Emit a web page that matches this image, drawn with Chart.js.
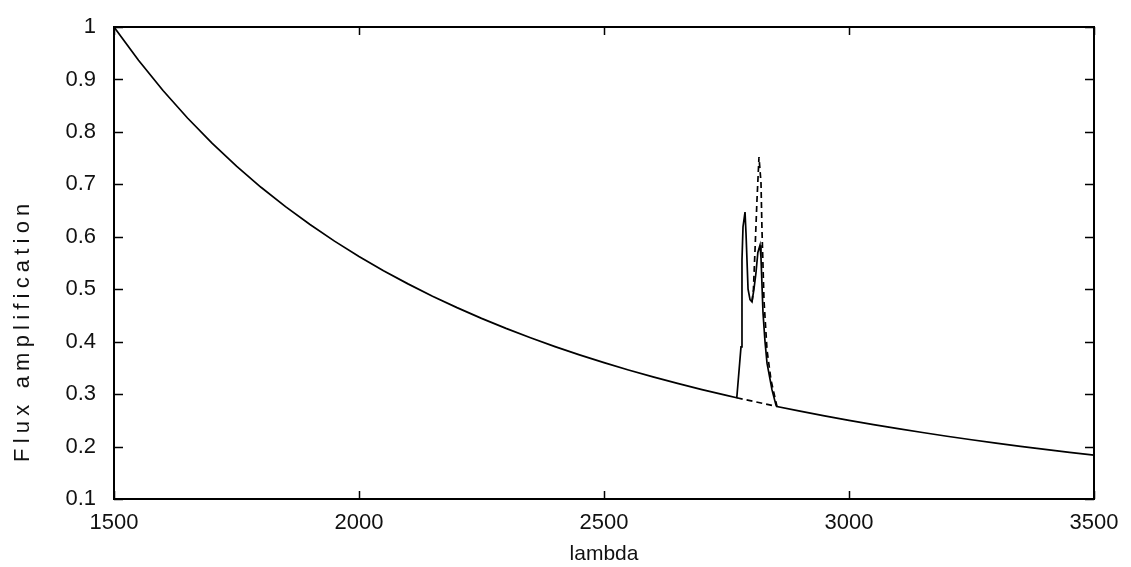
<!DOCTYPE html>
<html>
<head>
<meta charset="utf-8">
<script src="https://cdn.jsdelivr.net/npm/chart.js@4.4.1/dist/chart.umd.min.js"></script>
<style>
  body { margin: 0; background: #fff; }
  #wrap { width: 1131px; height: 567px; position: relative; }
</style>
</head>
<body>
<div id="wrap"><canvas id="flux-chart"></canvas></div>
<script>
// ---- data ----
// continuum, left of the emission feature
const contLeftLambda = [1500, 1550, 1600, 1650, 1700, 1750, 1800, 1850, 1900, 1950, 2000, 2050, 2100, 2150, 2200, 2250, 2300, 2350, 2400, 2450, 2500, 2550, 2600, 2650, 2700, 2750, 2771];
const contLeftFlux   = [1.000, 0.9365, 0.8789, 0.8264, 0.7785, 0.7347, 0.6944, 0.6574, 0.6233, 0.5917, 0.5625, 0.5354, 0.5102, 0.4867, 0.4649, 0.4444, 0.4253, 0.4074, 0.3906, 0.3748, 0.3600, 0.3460, 0.3328, 0.3204, 0.3086, 0.2975, 0.2930];

// solid emission profile (double peak)
const emitLambda = [2779.6, 2781.6, 2783.7, 2787.8, 2789.8, 2794, 2798, 2802, 2806, 2810, 2814, 2818.4, 2820.4, 2824.5, 2828.6, 2832.7, 2842.9, 2851];
const emitFlux   = [0.390, 0.556, 0.619, 0.647, 0.607, 0.500, 0.480, 0.476, 0.500, 0.530, 0.570, 0.584, 0.560, 0.455, 0.400, 0.359, 0.308, 0.279];

// continuum, right of the emission feature
const contRightLambda = [2853, 2900, 2950, 3000, 3050, 3100, 3150, 3200, 3250, 3300, 3350, 3400, 3450, 3500];
const contRightFlux   = [0.2764, 0.2675, 0.2585, 0.2500, 0.2419, 0.2341, 0.2268, 0.2197, 0.2130, 0.2066, 0.2005, 0.1946, 0.1890, 0.1837];

// dashed profile (single peak) and dashed continuum under the feature
const dashLambda = [2802, 2805, 2808.2, 2812.2, 2816.3, 2820.4, 2822.4, 2826.5, 2832.7, 2840.8, 2853];
const dashFlux   = [0.476, 0.500, 0.575, 0.670, 0.752, 0.703, 0.613, 0.479, 0.384, 0.327, 0.2764];
const baseLambda = [2771, 2853];
const baseFlux   = [0.2930, 0.2764];

const xTicks = [1500, 2000, 2500, 3000, 3500];
const yTicks = [0.1, 0.2, 0.3, 0.4, 0.5, 0.6, 0.7, 0.8, 0.9, 1];

const toPts = (xs, ys) => xs.map((x, i) => ({ x, y: ys[i] }));

const solidPts = toPts(
  contLeftLambda.concat(emitLambda, contRightLambda),
  contLeftFlux.concat(emitFlux, contRightFlux)
);

const FONT = 'Liberation Sans, Arial, sans-serif';

// frame + inward mirror ticks, gnuplot style
const framePlugin = {
  id: 'frame',
  afterDatasetsDraw(chart) {
    const { ctx, chartArea: a, scales } = chart;
    ctx.save();
    ctx.strokeStyle = '#000';
    ctx.lineWidth = 1.5;
    ctx.beginPath();
    xTicks.forEach(v => {
      const px = Math.round(scales.x.getPixelForValue(v)) + 0.5;
      ctx.moveTo(px, a.bottom); ctx.lineTo(px, a.bottom - 8);
      ctx.moveTo(px, a.top); ctx.lineTo(px, a.top + 8);
    });
    yTicks.forEach(v => {
      const py = Math.round(scales.y.getPixelForValue(v)) + 0.5;
      ctx.moveTo(a.left, py); ctx.lineTo(a.left + 9, py);
      ctx.moveTo(a.right, py); ctx.lineTo(a.right - 9, py);
    });
    ctx.stroke();
    ctx.lineWidth = 2;
    ctx.strokeRect(a.left, a.top, a.right - a.left, a.bottom - a.top);
    ctx.restore();
  },
  afterDraw(chart) {
    // rotated y title, widely spaced like the original
    const { ctx } = chart;
    ctx.save();
    ctx.translate(23, 462);
    ctx.rotate(-Math.PI / 2);
    ctx.font = '22px ' + FONT;
    ctx.letterSpacing = '5.2px';
    ctx.fillStyle = '#111';
    ctx.textAlign = 'left';
    ctx.textBaseline = 'middle';
    ctx.fillText('Flux amplification', 0, 0);
    ctx.restore();
  }
};

const lineStyle = { borderColor: '#000', borderWidth: 1.7, pointRadius: 0, tension: 0, fill: false };

new Chart(document.getElementById('flux-chart'), {
  type: 'line',
  data: {
    datasets: [
      { ...lineStyle, data: toPts(baseLambda, baseFlux), borderDash: [6, 4] },
      { ...lineStyle, data: toPts(dashLambda, dashFlux), borderDash: [6, 4] },
      { ...lineStyle, data: solidPts }
    ]
  },
  options: {
    responsive: true,
    maintainAspectRatio: false,
    animation: false,
    devicePixelRatio: 1,
    layout: { padding: { top: 27, right: 37, left: 0, bottom: 0 } },
    plugins: { legend: { display: false }, tooltip: { enabled: false } },
    scales: {
      x: {
        type: 'linear',
        min: 1500, max: 3500,
        grid: { display: false },
        border: { display: false },
        afterFit: s => { s.height = 68; },
        afterBuildTicks: s => { s.ticks = xTicks.map(v => ({ value: v })); },
        ticks: { color: '#111', font: { family: FONT, size: 22 }, padding: 3, maxRotation: 0, callback: v => String(v) },
        title: { display: true, text: 'lambda', color: '#111', font: { family: FONT, size: 21 }, padding: { top: 3, bottom: 0 } }
      },
      y: {
        min: 0.1, max: 1,
        grid: { display: false },
        border: { display: false },
        afterFit: s => { s.width = 114; },
        afterBuildTicks: s => { s.ticks = yTicks.map(v => ({ value: v })); },
        ticks: { color: '#111', font: { family: FONT, size: 22 }, padding: 10, callback: v => String(+v.toFixed(1)) }
      }
    }
  },
  plugins: [framePlugin]
});
</script>
</body>
</html>
